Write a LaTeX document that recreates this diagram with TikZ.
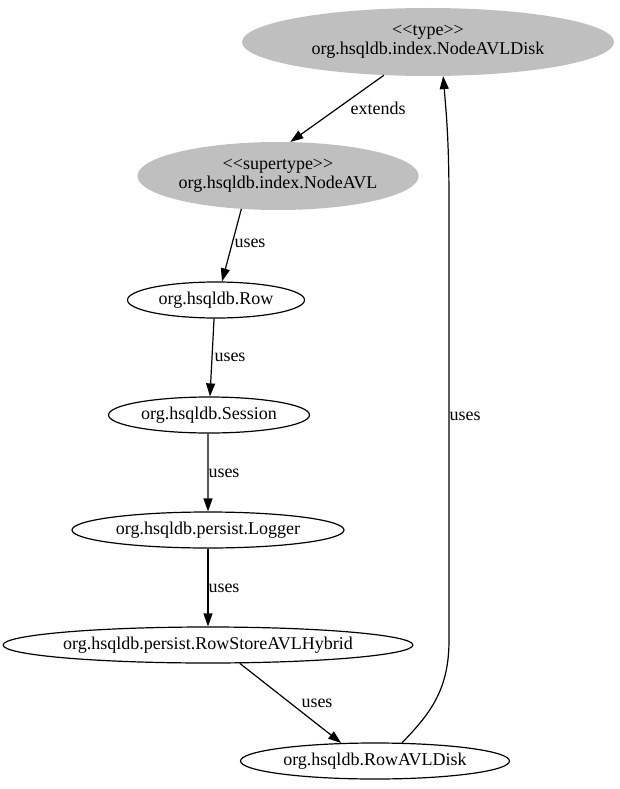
\documentclass[tikz,border=0pt]{standalone}
\usepackage{fontspec}
\setmainfont{Liberation Serif}
\usetikzlibrary{shapes.geometric,arrows.meta}
\begin{document}
\begin{tikzpicture}[x=1pt,y=-1pt,
  base/.style={ellipse,inner sep=0pt,align=center,font=\fontsize{18}{18.5}\selectfont},
  gnode/.style={base,fill=black!25},
  wnode/.style={base,draw,line width=1.2pt},
  edge/.style={draw,line width=1.2pt,-{Triangle[length=13pt,width=9pt]}},
  lbl/.style={font=\fontsize{18}{18.5}\selectfont,inner sep=0pt}]
\useasboundingbox (0,0) rectangle (620,789);
\node[gnode,minimum width=372pt,minimum height=68pt] (t) at (428,42) {<\kern0pt<type>\kern0pt>\\org.hsqldb.index.NodeAVLDisk};
\node[gnode,minimum width=266pt,minimum height=68pt] (s) at (278,176) {<\kern0pt<supertype>\kern0pt>\\org.hsqldb.index.NodeAVL};
\node[wnode,minimum width=177pt,minimum height=36pt] (r) at (216,300) {org.hsqldb.Row};
\node[wnode,minimum width=201pt,minimum height=36pt] (se) at (209,415) {org.hsqldb.Session};
\node[wnode,minimum width=272pt,minimum height=36pt] (l) at (208,530) {org.hsqldb.persist.Logger};
\node[wnode,minimum width=406pt,minimum height=36pt] (rs) at (208,645) {org.hsqldb.persist.RowStoreAVLHybrid};
\node[wnode,minimum width=269pt,minimum height=36pt] (rd) at (375,761) {org.hsqldb.RowAVLDisk};
\draw[edge] (t.217) -- (s.70);
\draw[edge] (s.222) -- (r.72);
\draw[edge] (r.264) -- (se.87);
\draw[edge] (se.267) -- (l.90);
\draw[edge] (l.270) -- (rs.90);
\draw[edge] (rs.330) -- (rd.152);
\draw[edge] (rd.34) .. controls (432,712) and (449,688) .. (449,640) -- (449,200) .. controls (449,140) and (446,110) .. (t.294);
\node[lbl] (l1) at (378,108) {extends};
\node[lbl] (l2) at (250,243) {uses};
\node[lbl] (l3) at (230,357) {uses};
\node[lbl] (l4) at (224,473) {uses};
\node[lbl] (l5) at (224,588) {uses};
\node[lbl] (l6) at (317,703) {uses};
\node[lbl] (l7) at (465,416) {uses};
\end{tikzpicture}
\end{document}
